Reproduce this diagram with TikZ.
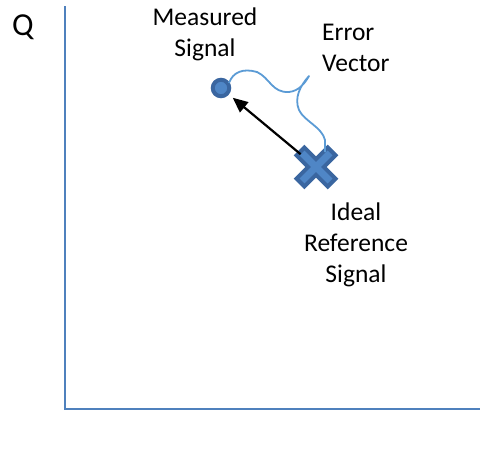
\documentclass[tikz,border=0pt]{standalone}
\usepackage{fontspec}
\setmainfont{Carlito}
\usetikzlibrary{arrows.meta,calc}
\definecolor{axisblue}{HTML}{4F81BD}
\definecolor{darkblue}{HTML}{3A66A0}
\definecolor{fillblue}{HTML}{4F86C6}
\definecolor{bracecol}{HTML}{5B9BD5}
\tikzset{
  lbl/.style={inner sep=0pt, font=\fontsize{25.5}{31}\selectfont, text=black},
  axisline/.style={draw=axisblue, line width=2.2pt},
}
\begin{document}
\begin{tikzpicture}[x=1pt,y=-1pt]
\useasboundingbox (0,0) rectangle (482,455);

% axes
\coordinate (top) at (65,6);
\coordinate (origin) at (65,409);
\coordinate (right) at (480,409);
\draw[axisline, line join=miter] (top) -- (origin) -- (right);
\node[lbl, font=\fontsize{32}{38}\selectfont] (qlabel) at (23,27) {Q};

% measured point
\node[circle, minimum size=16.5pt, inner sep=0pt, fill=fillblue, draw=darkblue, line width=4pt] (meas) at (221,88) {};

% ideal reference point (cross)
\coordinate (ideal) at (316,167);
\begin{scope}[line cap=butt]
  \draw[darkblue, line width=15pt] ($(ideal)+(-17,-17)$) -- ($(ideal)+(17,17)$)
                                   ($(ideal)+(-17,17)$) -- ($(ideal)+(17,-17)$);
  \draw[fillblue, line width=7pt] ($(ideal)+(-14,-14)$) -- ($(ideal)+(14,14)$)
                                  ($(ideal)+(-14,14)$) -- ($(ideal)+(14,-14)$);
\end{scope}

% error vector
\draw[-{Triangle[length=15pt,width=13pt]}, line width=2.2pt, shorten <=20pt, shorten >=5pt] (ideal) -- (meas);

% brace spanning the error vector
\coordinate (bstart) at (229,83);
\coordinate (btip) at (309,76);
\coordinate (bend) at (325,152);
\draw[bracecol, line width=1.8pt, line join=round]
  (bstart) .. controls (233,72) and (243,68) .. (257,72)
  .. controls (270,78) and (272,93) .. (289,92)
  .. controls (299,91) and (305,83) .. (btip)
  .. controls (300,86) and (294,98) .. (299,110)
  .. controls (304,121) and (322,127) .. (325,140)
  -- (bend);

% labels
\node[lbl, align=center, anchor=north] (mlabel) at (205,8) {Measured\\Signal};
\node[lbl, align=left, anchor=north west] (elabel) at (322,24) {Error\\Vector};
\node[lbl, align=center, anchor=north] (ilabel) at (356,203) {Ideal\\Reference\\Signal};
\end{tikzpicture}
\end{document}
